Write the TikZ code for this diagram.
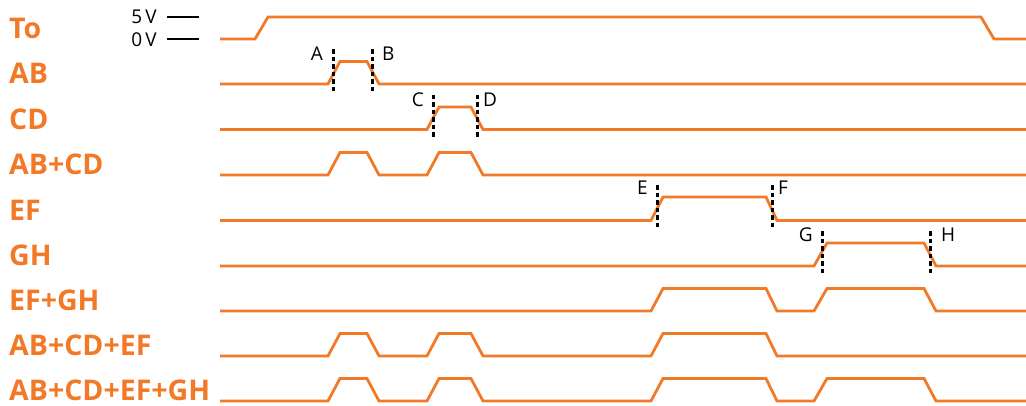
\documentclass[tikz,border=0pt]{standalone}
\usepackage{fontspec}
\setmainfont{Open Sans}
\definecolor{sigorange}{RGB}{242,121,40}
\tikzset{
  wave/.style={sigorange,line width=2.8pt},
  marker/.style={black,line width=3pt,dash pattern=on 4.5pt off 3pt},
  siglabel/.style={anchor=base west,text=sigorange,inner sep=0pt,text depth=0pt,font=\fontsize{28.5}{32}\selectfont\bfseries},
  edgelabel/.style={inner sep=0pt,font=\fontsize{19}{22}\selectfont},
}
\begin{document}
\begin{tikzpicture}[x=1pt,y=-1pt]
 \useasboundingbox (0,0) rectangle (1026,405);
 % signal names
 \foreach \txt/\y [count=\i] in {To/38.5,AB/83.5,CD/129,AB+CD/174.5,EF/220,GH/265.5,EF+GH/310.5,AB+CD+EF/355.5,AB+CD+EF+GH/400}
   \node[siglabel] (sig\i) at (9,\y) {\txt};
 % levels
 \node[edgelabel,anchor=base east] (v5) at (157,23.5) {5\,V};
 \node[edgelabel,anchor=base east] (v0) at (157,46) {0\,V};
 \draw[black,line width=2pt] (167,17) -- (199,17);
 \draw[black,line width=2pt] (167,39) -- (199,39);
 % waveforms
 \draw[wave] (220,39)--(255,39)--(268,17)--(981,17)--(994,39)--(1026,39);
 \draw[wave] (220,84)--(328,84)--(340,61.5)--(367,61.5)--(379,84)--(1026,84);
 \draw[wave] (220,129.5)--(427,129.5)--(439,107)--(471,107)--(483,129.5)--(1026,129.5);
 \draw[wave] (220,175)--(328,175)--(340,152.5)--(367,152.5)--(379,175)--(427,175)--(439,152.5)--(471,152.5)--(483,175)--(1026,175);
 \draw[wave] (220,220.5)--(651,220.5)--(663,197)--(766,197)--(777,220.5)--(1026,220.5);
 \draw[wave] (220,266)--(814,266)--(827,243)--(924,243)--(936,266)--(1026,266);
 \draw[wave] (220,311)--(651,311)--(663,288.5)--(766,288.5)--(777,311)--(814,311)--(827,288.5)--(924,288.5)--(936,311)--(1026,311);
 \draw[wave] (220,356)--(328,356)--(340,333.5)--(367,333.5)--(379,356)--(427,356)--(439,333.5)--(471,333.5)--(483,356)--(651,356)--(663,333.5)--(766,333.5)--(777,356)--(1026,356);
 \draw[wave] (220,401)--(328,401)--(340,378.5)--(367,378.5)--(379,401)--(427,401)--(439,378.5)--(471,378.5)--(483,401)--(651,401)--(663,378.5)--(766,378.5)--(777,401)--(814,401)--(827,378.5)--(924,378.5)--(936,401)--(1026,401);
 % edge markers
 \draw[marker] (333,49) -- (333,92);
 \draw[marker] (372,49) -- (372,92);
 \draw[marker] (433,94.5) -- (433,137.5);
 \draw[marker] (477,94.5) -- (477,137.5);
 \draw[marker] (657,185) -- (657,228.5);
 \draw[marker] (772,185) -- (772,228.5);
 \draw[marker] (822,231) -- (822,274);
 \draw[marker] (930,231) -- (930,274);
 \node[edgelabel,anchor=base east] (lA) at (323,60.5) {A};
 \node[edgelabel,anchor=base west] (lB) at (382,60.5) {B};
 \node[edgelabel,anchor=base east] (lC) at (424,106) {C};
 \node[edgelabel,anchor=base west] (lD) at (483,106) {D};
 \node[edgelabel,anchor=base east] (lE) at (648,194) {E};
 \node[edgelabel,anchor=base west] (lF) at (778,194) {F};
 \node[edgelabel,anchor=base east] (lG) at (813,241.5) {G};
 \node[edgelabel,anchor=base west] (lH) at (941,241.5) {H};
\end{tikzpicture}
\end{document}
